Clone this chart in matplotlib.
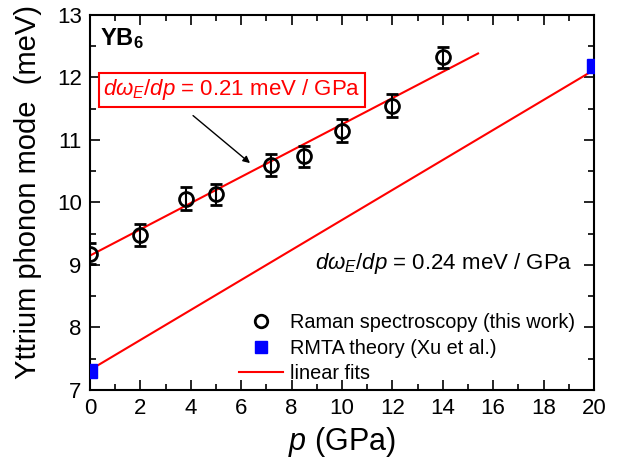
import matplotlib
matplotlib.use("Agg")
import matplotlib.pyplot as plt
import numpy as np
from matplotlib.ticker import MultipleLocator
from matplotlib.lines import Line2D

plt.rcParams['font.family'] = ['Liberation Sans', 'DejaVu Sans']
plt.rcParams['mathtext.fontset'] = 'custom'
plt.rcParams['mathtext.rm'] = 'Liberation Sans'
plt.rcParams['mathtext.it'] = 'Liberation Sans:italic'
plt.rcParams['mathtext.bf'] = 'Liberation Sans:bold'

# Raman data
p_raman = [0.0, 2.0, 3.8, 5.0, 7.2, 8.5, 10.0, 12.0, 14.0]
w_raman = [9.18, 9.48, 10.06, 10.13, 10.60, 10.74, 11.15, 11.55, 12.32]
err_raman = [0.17, 0.17, 0.18, 0.17, 0.18, 0.17, 0.18, 0.18, 0.17]

# RMTA theory
p_theory = [0.0, 20.0]
w_theory = [7.30, 12.18]

# linear fits
fit1_p = [0.0, 15.4]
fit1_intercept, fit1_slope = 9.15, 0.21
fit2_p = [0.0, 20.0]
fit2_intercept, fit2_slope = 7.32, 0.24

fig = plt.figure(figsize=(6.18, 4.63), dpi=100)
ax = fig.add_axes([0.1456, 0.1577, 0.8155, 0.81])

ax.errorbar(p_raman, w_raman, yerr=err_raman, fmt='o', mfc='none', mec='black',
            mew=2, ms=10, ecolor='black', elinewidth=1.5, capsize=4, capthick=1.5,
            zorder=3)
ax.plot(p_theory, w_theory, 's', color='blue', ms=10, zorder=3, clip_on=True)
f1 = np.array(fit1_p)
ax.plot(f1, fit1_intercept + fit1_slope * f1, color='red', lw=1.5, zorder=2)
f2 = np.array(fit2_p)
ax.plot(f2, fit2_intercept + fit2_slope * f2, color='red', lw=1.5, zorder=2)

ax.set_xlim(0, 20)
ax.set_ylim(7, 13)
ax.xaxis.set_major_locator(MultipleLocator(2))
ax.xaxis.set_minor_locator(MultipleLocator(1))
ax.yaxis.set_major_locator(MultipleLocator(1))
ax.yaxis.set_minor_locator(MultipleLocator(0.5))
ax.tick_params(which='both', direction='in', top=True, right=True, width=1.2)
ax.tick_params(which='major', length=7, labelsize=16, pad=6)
ax.tick_params(which='minor', length=4)
for s in ax.spines.values():
    s.set_linewidth(1.5)

ax.set_xlabel(r'$p$ (GPa)', fontsize=22, labelpad=4)
ax.set_ylabel('Yttrium phonon mode  (meV)', fontsize=21)
ax.yaxis.set_label_coords(-0.095, 0.528)

ax.text(0.38, 12.62, r'YB$_\mathbf{6}$', fontsize=17, fontweight='bold', va='center', ha='left')

ax.text(5.63, 11.8, r'$d\omega_E/dp$ = 0.21 meV / GPa', fontsize=16, color='red',
        ha='center', va='center',
        bbox=dict(boxstyle='square,pad=0.2', fc='white', ec='red', lw=1.5))
ax.annotate('', xy=(6.35, 10.63), xytext=(4.09, 11.39),
            arrowprops=dict(arrowstyle='-|>', color='black', lw=1, shrinkA=0, shrinkB=0,
                            mutation_scale=10))

ax.text(19.13, 9.03, r'$d\omega_E/dp$ = 0.24 meV / GPa', fontsize=16, color='black',
        ha='right', va='center')

handles = [
    Line2D([], [], ls='none', marker='o', mfc='none', mec='black', mew=2, ms=9),
    Line2D([], [], ls='none', marker='s', color='blue', ms=9),
    Line2D([], [], color='red', lw=1.5),
]
labels = ['Raman spectroscopy (this work)', 'RMTA theory (Xu et al.)', 'linear fits']
ax.legend(handles, labels, loc='upper left', bbox_to_anchor=(0.2956, 0.205),
          frameon=False, fontsize=14.3, handlelength=2.2, handletextpad=0.35,
          borderpad=0, borderaxespad=0, labelspacing=0.33)

fig.savefig('out.png', dpi=100)
